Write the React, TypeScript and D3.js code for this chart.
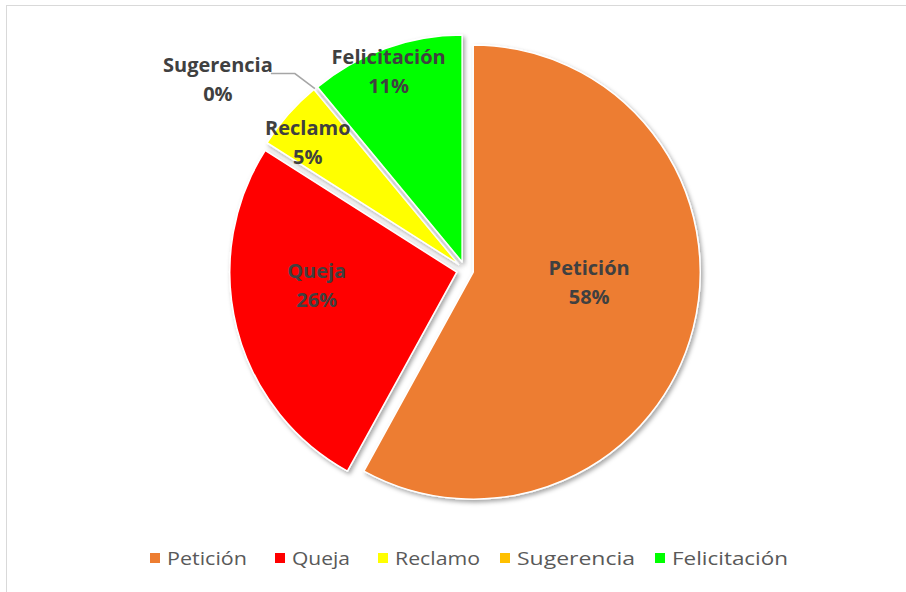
import React from "react";
import * as d3 from "d3";

const categories = ["Petición", "Queja", "Reclamo", "Sugerencia", "Felicitación"];
const values = [58, 26, 5, 0, 11];
const percentLabels = ["58%", "26%", "5%", "0%", "11%"];
const colors = ["#ED7D31", "#FF0000", "#FFFF00", "#FFC000", "#00FF00"];

const W = 906;
const H = 592;
const CX = 465;
const CY = 270;
const R = 227;
const EXPLODE = 8.5;
// label layout (not data)
const labelRadius = [0.55, 0.66, 0.88, 1.0, 0.93];
const labelNudge: [number, number][] = [
  [-5, -26],
  [5, -29],
  [-1, 5],
  [0, 0],
  [-2, 3],
];
const legendX = [150, 275, 378, 500, 655];
const legendTextLen = [80, 58, 85, 118, 116];

export default function App() {
  const pie = d3
    .pie<number>()
    .sort(null)
    .value((d) => d);
  const arcs = pie(values);
  const arcGen = d3.arc<d3.PieArcDatum<number>>().innerRadius(0).outerRadius(R);

  const font = "'Open Sans', 'Noto Sans', sans-serif";

  const slices = arcs.map((a, i) => {
    const mid = (a.startAngle + a.endAngle) / 2;
    const ox = Math.sin(mid) * EXPLODE;
    const oy = -Math.cos(mid) * EXPLODE;
    return { a, i, mid, ox, oy };
  });

  const legendY = 558;
  const fs = 20;

  return (
    <svg
      width={W}
      height={H}
      style={{ position: "fixed", left: 0, top: 0, background: "#fff" }}
      fontFamily={font}
    >
      <defs>
        <filter id="shadow" x="-20%" y="-20%" width="140%" height="140%">
          <feDropShadow dx="2" dy="2.5" stdDeviation="2" floodColor="#000" floodOpacity="0.35" />
        </filter>
      </defs>
      <rect x={0} y={0} width={W} height={H} fill="#fff" />
      <rect x={6.5} y={5.5} width={W + 10} height={H + 10} fill="none" stroke="#d9d9d9" strokeWidth={1} />
      <g transform={`translate(${CX},${CY})`}>
        {slices
          .filter((s) => s.a.value > 0)
          .map((s) => (
            <path
              key={categories[s.i]}
              d={arcGen(s.a) || ""}
              transform={`translate(${s.ox},${s.oy})`}
              fill={colors[s.i]}
              stroke="#fff"
              strokeWidth={1.5}
              strokeLinejoin="round"
              filter="url(#shadow)"
            />
          ))}
        {slices.map((s) => {
          const i = s.i;
          if (values[i] === 0) {
            const ex = s.ox + Math.sin(s.a.startAngle) * R;
            const ey = s.oy - Math.cos(s.a.startAngle) * R;
            const lx = ex - 20;
            const ly = ey - 15;
            const tx = lx - 77;
            return (
              <g key={"lab" + i}>
                <polyline
                  points={`${ex},${ey} ${lx},${ly} ${lx - 24},${ly}`}
                  fill="none"
                  stroke="#a6a6a6"
                  strokeWidth={1.5}
                />
                <text x={tx} y={ly - 2} textAnchor="middle" fontSize={fs} fontWeight="bold" fill="#404040">
                  {categories[i]}
                </text>
                <text x={tx} y={ly + 27} textAnchor="middle" fontSize={fs} fontWeight="bold" fill="#404040">
                  {percentLabels[i]}
                </text>
              </g>
            );
          }
          const lr = R * labelRadius[i];
          const x = s.ox + Math.sin(s.mid) * lr + labelNudge[i][0];
          const y = s.oy - Math.cos(s.mid) * lr + labelNudge[i][1];
          return (
            <g key={"lab" + i}>
              <text x={x} y={y - 2} textAnchor="middle" fontSize={fs} fontWeight="bold" fill="#404040">
                {categories[i]}
              </text>
              <text x={x} y={y + 27} textAnchor="middle" fontSize={fs} fontWeight="bold" fill="#404040">
                {percentLabels[i]}
              </text>
            </g>
          );
        })}
      </g>
      <g>
        {categories.map((c, i) => (
          <g key={"leg" + i} transform={`translate(${legendX[i]},${legendY})`}>
            <rect x={0} y={-5} width={10} height={10} fill={colors[i]} />
            <text
              x={17}
              y={7}
              fontSize={19}
              fill="#595959"
              textLength={legendTextLen[i]}
              lengthAdjust="spacingAndGlyphs"
            >
              {c}
            </text>
          </g>
        ))}
      </g>
    </svg>
  );
}
